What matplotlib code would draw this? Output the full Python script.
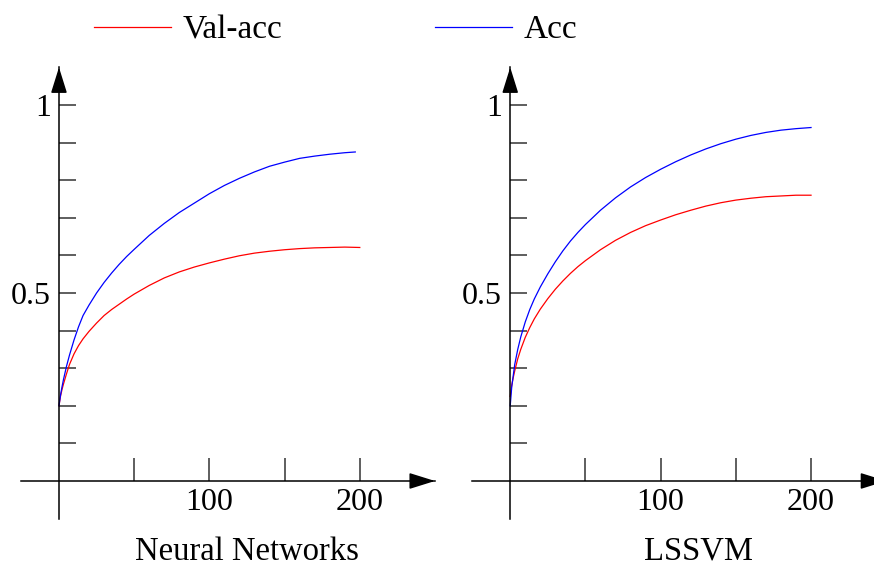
import matplotlib

matplotlib.use("Agg")
import matplotlib.pyplot as plt
from matplotlib.lines import Line2D

plt.rcParams["font.family"] = ["Liberation Serif", "DejaVu Serif"]

EPOCHS = [0, 1, 2, 3, 5, 7, 10, 13, 16, 20, 25, 30, 35, 40, 45, 50, 60, 70, 80,
          90, 100, 110, 120, 130, 140, 150, 160, 170, 180, 190, 200]
# the Neural Networks "Acc" curve stops a little before 200
NN_EPOCHS_ACC = EPOCHS[:-1] + [197]

# Neural Networks panel
NN_VAL_ACC = [0.200, 0.225, 0.243, 0.258, 0.285, 0.310, 0.338, 0.360, 0.378,
              0.398, 0.420, 0.440, 0.456, 0.470, 0.484, 0.497, 0.520, 0.540,
              0.556, 0.569, 0.580, 0.590, 0.599, 0.606, 0.611, 0.615, 0.618,
              0.620, 0.621, 0.622, 0.621]
NN_ACC = [0.200, 0.228, 0.250, 0.270, 0.305, 0.335, 0.375, 0.410, 0.440,
          0.468, 0.500, 0.528, 0.553, 0.576, 0.597, 0.616, 0.653, 0.685,
          0.714, 0.739, 0.764, 0.786, 0.805, 0.822, 0.837, 0.848, 0.858,
          0.864, 0.869, 0.873, 0.875]

# LSSVM panel
SVM_VAL_ACC = [0.225, 0.255, 0.275, 0.293, 0.325, 0.350, 0.382, 0.408, 0.431,
               0.457, 0.485, 0.510, 0.532, 0.552, 0.570, 0.586, 0.615, 0.640,
               0.661, 0.679, 0.694, 0.708, 0.720, 0.731, 0.740, 0.747, 0.752,
               0.756, 0.758, 0.760, 0.760]
SVM_ACC = [0.200, 0.250, 0.280, 0.310, 0.350, 0.383, 0.423, 0.456, 0.484,
           0.516, 0.551, 0.583, 0.612, 0.638, 0.661, 0.682, 0.720, 0.753,
           0.782, 0.807, 0.829, 0.849, 0.867, 0.883, 0.897, 0.909, 0.919,
           0.927, 0.933, 0.937, 0.940]

PANEL_TITLES = ["Neural Networks", "LSSVM"]
X_TICKS = [50, 100, 150, 200]
X_TICK_LABELS = ["", "100", "", "200"]
Y_TICKS = [0.1, 0.2, 0.3, 0.4, 0.5, 0.6, 0.7, 0.8, 0.9, 1.0]
Y_TICK_LABELS = ["", "", "", "", "0.5", "", "", "", "", "1"]

TICK_FONT_SIZE = 23
TEXT_FONT_SIZE = 23.5
RED = "#ff0000"
BLUE = "#0000ff"


def draw_panel(ax, acc_x, val_acc, acc, title):
    """Draw one accuracy panel with arrow-headed axes through the origin."""
    ax.plot(EPOCHS, val_acc, color=RED, lw=0.9, solid_joinstyle="round")
    ax.plot(acc_x, acc, color=BLUE, lw=0.9, solid_joinstyle="round")

    ax.set_xlim(-25.5, 250)
    ax.set_ylim(-0.1, 1.1)

    # Axes through the origin
    for side in ["top", "right"]:
        ax.spines[side].set_visible(False)
    ax.spines["left"].set_position(("data", 0))
    ax.spines["bottom"].set_position(("data", 0))
    ax.spines["left"].set_linewidth(1.1)
    ax.spines["bottom"].set_linewidth(1.1)

    ax.set_xticks(X_TICKS)
    ax.set_xticklabels(X_TICK_LABELS)
    ax.set_yticks(Y_TICKS)
    ax.set_yticklabels(Y_TICK_LABELS)
    ax.tick_params(axis="x", direction="in", length=16.5, width=1.1,
                   color="#333333", labelsize=TICK_FONT_SIZE, pad=5)
    ax.tick_params(axis="y", direction="in", length=12.2, width=1.1,
                   color="#333333", labelsize=TICK_FONT_SIZE, pad=6)

    # Arrow heads
    arrow = dict(arrowstyle="-|>,head_length=16,head_width=5",
                 mutation_scale=1, color="black", lw=1.1,
                 shrinkA=0, shrinkB=0)
    ax.annotate("", xy=(250, 0), xytext=(234, 0), arrowprops=arrow,
                annotation_clip=False)
    ax.annotate("", xy=(0, 1.1), xytext=(0, 1.04), arrowprops=arrow,
                annotation_clip=False)

    ax.text(125, -0.209, title, ha="center", va="baseline",
            fontsize=TEXT_FONT_SIZE, clip_on=False)


fig = plt.figure(figsize=(8.74, 5.68), dpi=100)
ax_nn = fig.add_axes([0.0236, 0.087, 0.4741, 0.7944])
ax_svm = fig.add_axes([0.5399, 0.087, 0.4741, 0.7944])

draw_panel(ax_nn, NN_EPOCHS_ACC, NN_VAL_ACC, NN_ACC, PANEL_TITLES[0])
draw_panel(ax_svm, EPOCHS, SVM_VAL_ACC, SVM_ACC, PANEL_TITLES[1])

handles = [Line2D([], [], color=RED, lw=0.9), Line2D([], [], color=BLUE, lw=0.9)]
fig.legend(handles, ["Val-acc", "Acc"], loc="center",
           bbox_to_anchor=(0.384, 0.947), ncol=2, frameon=False,
           fontsize=TEXT_FONT_SIZE + 0.5, handlelength=2.3, handletextpad=0.35,
           columnspacing=4.6)

fig.savefig("out.png", dpi=100)
